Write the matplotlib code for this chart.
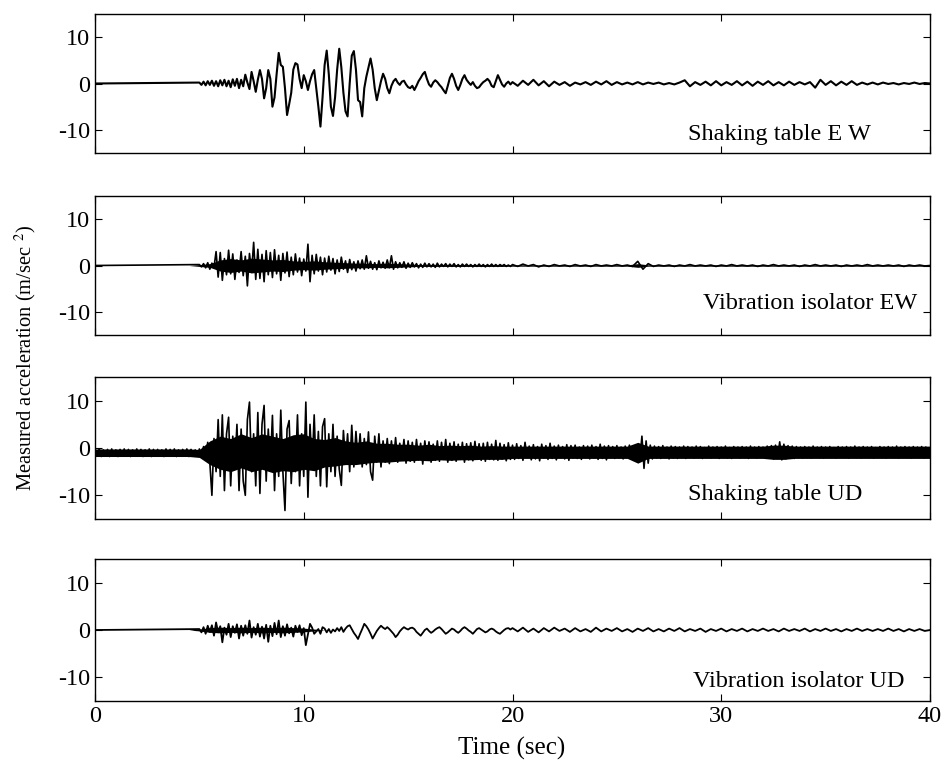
import numpy as np
import matplotlib
matplotlib.use("Agg")
import matplotlib.pyplot as plt

plt.rcParams['font.family'] = 'serif'
plt.rcParams['font.serif'] = ['Liberation Serif', 'DejaVu Serif']
plt.rcParams['mathtext.fontset'] = 'stix'
plt.rcParams['axes.unicode_minus'] = False

# sample grids (sec)
t_pre = np.arange(50) * 0.1            # 0.0 - 4.9
t_main = 5.0 + np.arange(150) * 0.1    # 5.0 - 19.9
t_tail = 20.0 + np.arange(81) * 0.25   # 20 - 40
t_tail_fine = 20.0 + np.arange(200) * 0.1
t_env = np.arange(81) * 0.5            # envelope grid 0 - 40

# --- Shaking table EW ---
ew_table_main = [
    0.2, -0.3, 0.4, -0.4, 0.5, -0.3, 0.6, -0.5, 0.5, -0.6,
    0.7, -0.4, 0.8, -0.6, 0.6, -0.8, 0.9, -0.5, 1.0, -1.0,
    0.8, -0.6, 1.9, 0.2, -1.2, 2.5, 0.5, -1.8, 0.8, 2.9,
    1.0, -3.2, -1.0, 2.9, 1.0, -5.0, -3.0, 2.0, 6.6, 4.0,
    3.6, -1.0, -6.8, -4.5, -2.0, 3.0, 4.4, 4.1, 1.0, -1.0,
    1.8, 0.5, -1.4, 0.5, 2.0, 2.9, -1.0, -5.0, -9.3, -3.0,
    4.0, 7.1, 2.0, -5.0, -7.0, -3.0, 3.0, 7.5, 3.5, -2.0,
    -6.0, -7.1, 0.0, 6.0, 7.0, 3.0, -3.6, -4.0, -7.1, -1.0,
    1.5, 3.5, 5.4, 3.0, -1.0, -3.6, -1.5, 0.5, 2.1, 1.0,
    -1.0, -2.1, -0.5, 0.5, 1.0, 0.2, -0.3, 0.4, 0.6, -0.2,
    -0.8, -1.0, -0.5, -1.4, -0.5, 0.5, 1.2, 2.0, 2.5, 1.0,
    -0.2, -0.7, 0.2, 0.7, 0.3, -0.3, -0.8, -1.5, -2.1, -0.5,
    1.2, 2.1, 1.0, -0.5, -1.4, -0.3, 1.0, 1.8, 0.8, 0.2,
    -0.3, 0.3, -0.5, -1.0, -0.8, -0.2, 0.3, 0.6, 1.0, 0.5,
    -0.5, -0.8, 0.5, 1.8, 0.8, -0.2, -0.7, 0.0, 0.4, -0.2,
]
ew_table_tail = [
    0.3, -0.5, 0.6, -0.3, 0.8, -0.4, 0.5, -0.6, 0.4, -0.3,
    0.3, -0.5, 0.2, -0.2, 0.3, -0.3, 0.4, -0.2, 0.5, -0.3,
    0.3, -0.2, 0.2, -0.2, 0.3, -0.2, 0.2, -0.1, 0.2, -0.2,
    0.1, -0.2, 0.2, 0.7, -0.6, 0.3, -0.3, 0.4, -0.4, 0.5,
    -0.4, 0.3, -0.3, 0.5, -0.4, 0.4, -0.5, 0.4, -0.3, 0.5,
    -0.4, 0.3, -0.4, 0.4, -0.3, 0.3, -0.2, 0.3, -0.9, 0.8,
    -0.3, 0.5, -0.4, 0.4, -0.3, 0.5, -0.3, 0.2, -0.2, 0.2,
    -0.2, 0.2, -0.1, 0.1, -0.2, 0.1, -0.1, 0.2, -0.1, 0.1,
    0.0,
]

# --- Vibration isolator EW ---
ew_iso_main = [
    0.2, -0.3, 0.4, -0.5, 0.6, -0.8, 0.5, -0.4, 3.0, -2.5,
    2.8, -3.2, 1.5, -2.0, 3.3, -1.8, 2.5, -3.0, 1.2, -1.5,
    3.0, -2.2, 2.0, -4.4, 2.6, -1.5, 5.0, -3.0, 3.5, -2.8,
    2.4, -3.5, 3.2, -2.0, 2.8, -2.6, 3.4, -1.8, 2.2, -3.2,
    2.6, -1.6, 2.9, -2.4, 1.8, -2.0, 2.5, -1.4, 1.6, -2.2,
    1.4, -1.2, 4.6, -3.5, 2.2, -1.8, 2.4, -1.2, 1.8, -2.0,
    1.6, -1.4, 2.0, -1.0, 1.5, -1.8, 1.2, -1.3, 1.8, -0.8,
    1.0, -1.5, 1.3, -0.9, 0.8, -1.2, 1.0, -0.7, 1.2, -0.8,
    2.1, -0.6, 0.9, -0.8, 0.6, -0.9, 1.0, -0.5, 0.7, -0.6,
    1.2, -0.5, 2.1, -0.8, 0.8, -0.5, 0.6, -0.4, 0.8, -0.6,
    0.5, -0.4, 0.6, -0.3, 0.4, -0.5, 0.3, -0.4, 0.5, -0.3,
    0.4, -0.3, 0.3, -0.4, 0.5, -0.3, 0.3, -0.2, 0.4, -0.3,
    0.3, -0.2, 0.4, -0.3, 0.2, -0.3, 0.3, -0.2, 0.3, -0.2,
    0.2, -0.3, 0.2, -0.2, 0.3, -0.2, 0.2, -0.3, 0.2, -0.2,
    0.3, -0.2, 0.2, -0.2, 0.2, -0.1, 0.2, -0.2, 0.1, -0.2,
]
ew_iso_tail = [
    0.2, -0.2, 0.3, -0.1, 0.2, -0.3, 0.1, -0.2, 0.2, -0.1,
    0.1, -0.2, 0.2, -0.1, 0.1, -0.2, 0.2, -0.1, 0.1, -0.1,
    0.2, -0.1, 0.1, -0.2, 0.9, -0.8, 0.4, -0.2, 0.1, -0.1,
    0.1, -0.2, 0.1, -0.1, 0.2, -0.1, 0.1, -0.1, 0.1, -0.2,
    0.1, -0.1, 0.2, -0.1, 0.1, -0.1, 0.1, -0.2, 0.1, -0.1,
    0.2, -0.1, 0.1, -0.1, 0.1, -0.2, 0.1, -0.1, 0.2, -0.1,
    0.1, -0.1, 0.1, -0.2, 0.1, -0.1, 0.1, -0.1, 0.2, -0.1,
    0.1, -0.1, 0.1, -0.1, 0.1, -0.2, 0.1, -0.1, 0.1, -0.1,
    0.0,
]
# half-width of the solid black core, every 0.5 s
ew_iso_env = [
    0.0, 0.0, 0.0, 0.0, 0.0, 0.0, 0.0, 0.0, 0.0, 0.0,
    0.2, 0.4, 1.2, 1.5, 1.2, 1.6, 1.4, 1.2, 1.3, 1.0,
    0.9, 1.0, 0.8, 0.7, 0.6, 0.5, 0.5, 0.4, 0.5, 0.4,
    0.3, 0.2, 0.2, 0.2, 0.2, 0.2, 0.2, 0.2, 0.2, 0.2,
    0.15, 0.15, 0.15, 0.15, 0.15, 0.15, 0.15, 0.15, 0.15, 0.15,
    0.15, 0.15, 0.4, 0.15, 0.15, 0.15, 0.15, 0.15, 0.15, 0.15,
    0.15, 0.15, 0.15, 0.15, 0.15, 0.15, 0.15, 0.15, 0.15, 0.15,
    0.15, 0.15, 0.15, 0.15, 0.15, 0.15, 0.15, 0.15, 0.15, 0.15,
    0.15,
]

# --- Shaking table UD ---
ud_table_pre = [
    -0.3, -1.7, -0.2, -1.8, -0.4, -1.6, -0.3, -1.8, -0.2, -1.7,
    -0.4, -1.8, -0.3, -1.6, -0.2, -1.7, -0.3, -1.8, -0.4, -1.7,
    -0.2, -1.6, -0.3, -1.8, -0.4, -1.7, -0.2, -1.8, -0.3, -1.6,
    -0.3, -1.7, -0.4, -1.8, -0.2, -1.6, -0.3, -1.7, -0.2, -1.8,
    -0.4, -1.7, -0.3, -1.6, -0.2, -1.8, -0.3, -1.7, -0.4, -1.6,
]
ud_table_main = [
    -0.2, -1.8, 0.3, -2.5, 1.2, -3.0, -10.0, 2.0, -5.0, 6.0,
    -6.0, 7.0, -9.0, 3.0, 6.5, -8.0, 2.5, -4.0, 5.0, -9.0,
    4.0, -7.0, -10.0, 6.0, 9.7, -5.0, 3.0, -8.0, 7.5, -9.6,
    5.0, 9.0, -7.0, 4.0, -4.0, 6.9, -9.0, 3.0, -6.0, 8.0,
    -5.0, -13.2, 4.0, 5.8, -7.5, 2.0, -5.0, 7.0, -8.0, 3.0,
    -6.0, 9.7, -10.4, 5.0, -4.0, 7.0, -6.0, 3.5, -8.0, 4.5,
    6.2, -8.2, 3.0, -5.0, 5.0, -6.0, 2.5, -4.5, -7.9, 3.7,
    -3.0, 3.0, -5.0, 4.8, -4.0, 3.5, -2.5, 3.0, -4.0, 2.0,
    -3.5, 3.4, -5.0, -6.8, 2.5, -3.0, 3.0, -4.0, 1.5, -3.0,
    2.0, -3.3, 1.5, -2.8, 2.2, -3.0, 1.0, -2.5, 1.8, -3.2,
    1.5, -2.8, 1.2, -3.0, 1.8, -2.5, 1.0, -3.4, 1.5, -2.2,
    1.3, -3.0, 0.8, -2.6, 1.5, -2.8, 1.2, -2.4, 1.8, -3.0,
    1.0, -2.6, 1.3, -2.8, 0.8, -2.4, 1.2, -3.0, 0.9, -2.5,
    1.1, -2.7, 1.4, -2.3, 0.9, -2.6, 1.0, -2.8, 1.2, -2.4,
    0.8, -2.5, 1.6, -2.6, 1.0, -2.3, 0.7, -2.7, 1.1, -2.4,
]
ud_table_tail = [
    0.6, -2.4, 0.9, -2.2, 0.5, -2.6, 1.2, -2.0, 0.4, -2.5,
    0.7, -2.3, 0.3, -2.7, 0.8, -2.1, 0.5, -2.4, 1.0, -2.2,
    0.4, -2.5, 0.6, -2.0, 0.3, -2.3, 0.7, -2.6, 0.5, -2.1,
    0.6, -2.2, 0.2, -2.4, 0.5, -2.0, 0.4, -2.3, 0.6, -2.1,
    0.3, -2.4, 0.8, -2.2, 0.4, -2.5, 0.5, -2.0, 0.3, -2.2,
    0.5, -2.1, 0.2, -2.3, 0.4, -2.0, 0.6, -2.2, 0.3, -2.4,
    0.5, -2.6, 2.5, -4.3, 1.5, -3.2, 0.6, -2.3, 0.4, -2.1,
    0.3, -2.2, 0.5, -2.0, 0.2, -2.3, 0.4, -2.1, 0.3, -2.2,
    0.2, -2.0, 0.4, -2.2, 0.3, -1.9, 0.2, -2.1, 0.4, -2.0,
    0.3, -2.2, 0.1, -2.0, 0.4, -2.1, 0.2, -1.9, 0.3, -2.2,
    0.2, -2.0, 0.4, -2.1, 0.1, -2.2, 0.3, -1.9, 0.2, -2.1,
    0.3, -2.0, 0.2, -2.2, 0.4, -1.9, 0.2, -2.1, 0.3, -2.0,
    0.2, -2.1, 0.4, -2.0, 0.5, -2.3, 0.6, -2.2, 1.3, -2.5,
    0.8, -2.3, 0.5, -2.1, 0.4, -2.2, 0.3, -2.0, 0.2, -2.1,
    0.3, -2.0, 0.2, -2.1, 0.4, -1.9, 0.2, -2.0, 0.3, -2.1,
    0.2, -1.9, 0.3, -2.0, 0.1, -2.1, 0.3, -1.9, 0.2, -2.0,
    0.3, -2.1, 0.2, -1.9, 0.4, -2.0, 0.2, -2.1, 0.3, -1.9,
    0.2, -2.0, 0.3, -2.1, 0.1, -1.9, 0.3, -2.0, 0.2, -2.1,
    0.3, -1.9, 0.2, -2.0, 0.4, -2.1, 0.2, -1.9, 0.3, -2.0,
    0.2, -2.1, 0.3, -1.9, 0.2, -2.0, 0.3, -2.1, 0.2, -1.9,
]
# solid black core, every 0.5 s
ud_table_env_hi = [
    -0.2, -0.2, -0.2, -0.2, -0.2, -0.2, -0.2, -0.2, -0.2, -0.2,
    -0.3, 1.5, 2.5, 2.0, 3.0, 2.2, 3.0, 2.5, 2.0, 2.8,
    3.0, 2.0, 1.8, 2.2, 1.5, 1.2, 1.5, 1.0, 1.0, 0.8,
    0.8, 0.6, 0.8, 0.5, 0.6, 0.5, 0.6, 0.4, 0.5, 0.4,
    0.4, 0.4, 0.4, 0.4, 0.4, 0.4, 0.4, 0.4, 0.4, 0.4,
    0.4, 0.4, 1.2, 0.4, 0.4, 0.4, 0.4, 0.4, 0.4, 0.4,
    0.4, 0.4, 0.4, 0.4, 0.4, 0.6, 0.6, 0.4, 0.4, 0.4,
    0.4, 0.4, 0.4, 0.4, 0.4, 0.4, 0.4, 0.4, 0.4, 0.4,
    0.4,
]
ud_table_env_lo = [
    -1.8, -1.8, -1.8, -1.8, -1.8, -1.8, -1.8, -1.8, -1.8, -1.8,
    -2.0, -3.5, -4.5, -5.0, -4.2, -5.0, -4.5, -5.2, -4.8, -5.0,
    -4.5, -4.8, -4.0, -3.8, -3.5, -3.5, -3.2, -3.0, -3.0, -2.8,
    -2.7, -2.6, -2.7, -2.5, -2.6, -2.5, -2.5, -2.4, -2.4, -2.4,
    -2.2, -2.2, -2.2, -2.2, -2.2, -2.2, -2.2, -2.2, -2.2, -2.2,
    -2.2, -2.2, -3.2, -2.2, -2.2, -2.2, -2.2, -2.2, -2.2, -2.2,
    -2.2, -2.2, -2.2, -2.2, -2.2, -2.4, -2.4, -2.2, -2.2, -2.2,
    -2.2, -2.2, -2.2, -2.2, -2.2, -2.2, -2.2, -2.2, -2.2, -2.2,
    -2.2,
]

# --- Vibration isolator UD ---
ud_iso_main = [
    0.2, -0.5, 0.6, -0.8, 0.9, -0.4, 1.0, -1.2, 1.6, -0.5,
    0.8, -2.6, 0.5, -1.0, 1.3, -1.5, 0.8, -0.6, 1.2, -1.8,
    0.9, -1.2, 1.0, -0.8, 2.0, -1.6, 0.6, -1.0, 1.3, -1.4,
    0.7, -1.8, 1.1, -2.5, 0.9, -1.3, 1.5, -0.9, 2.0, -1.5,
    0.8, -1.2, 1.2, -0.7, 0.5, -1.4, 0.9, -0.4, 1.0, -1.1,
    0.4, -3.2, -1.0, 1.3, 0.5, -0.8, -0.3, 0.2, -0.8, 0.6,
    0.3, -0.5, 0.2, -0.6, 0.1, -0.3, 0.4, -0.2, 0.6, -0.4,
    0.3, 0.8, 1.0, 0.2, -0.6, -1.2, -1.9, -0.8, 0.2, 1.3,
    0.8, 0.1, -0.8, -1.8, -1.0, -0.2, 0.4, 0.9, 0.5, 0.2,
    0.6, 0.2, -0.3, -0.8, -1.5, -1.0, -0.3, 0.2, 0.6, 0.3,
    0.1, 0.4, 0.5, 0.2, -0.4, -0.8, -1.2, -0.6, 0.0, 0.3,
    -0.2, -0.6, -0.3, 0.1, 0.4, 0.6, 0.2, -0.3, -0.8, -0.5,
    -0.1, 0.3, 0.1, -0.3, -0.6, -0.2, 0.3, 0.6, 0.3, -0.1,
    -0.4, -0.8, -0.3, 0.2, 0.4, 0.1, -0.2, -0.5, -0.3, 0.1,
    0.3, 0.1, -0.3, -0.6, -0.8, -0.4, 0.0, 0.3, 0.4, 0.1,
]
ud_iso_tail = [
    0.4, -0.3, 0.5, -0.4, 0.3, -0.5, 0.4, -0.3, 0.5, -0.2,
    0.3, -0.4, 0.4, -0.3, 0.2, -0.4, 0.5, -0.3, 0.3, -0.2,
    0.4, -0.3, 0.2, -0.4, 0.3, -0.2, 0.4, -0.3, 0.2, -0.3,
    0.3, -0.2, 0.4, -0.3, 0.2, -0.2, 0.3, -0.4, 0.2, -0.2,
    0.3, -0.3, 0.2, -0.2, 0.3, -0.3, 0.2, -0.2, 0.3, -0.2,
    0.2, -0.3, 0.3, -0.2, 0.2, -0.2, 0.3, -0.3, 0.2, -0.2,
    0.3, -0.2, 0.2, -0.3, 0.2, -0.2, 0.3, -0.2, 0.2, -0.2,
    0.2, -0.2, 0.3, -0.2, 0.2, -0.3, 0.2, -0.2, 0.2, -0.2,
    0.0,
]
ud_iso_env = [
    0.0, 0.0, 0.0, 0.0, 0.0, 0.0, 0.0, 0.0, 0.0, 0.0,
    0.2, 0.5, 0.6, 0.5, 0.6, 0.5, 0.6, 0.5, 0.6, 0.5,
    0.4, 0.2, 0.0, 0.0, 0.0, 0.0, 0.0, 0.0, 0.0, 0.0,
    0.0, 0.0, 0.0, 0.0, 0.0, 0.0, 0.0, 0.0, 0.0, 0.0,
    0.0, 0.0, 0.0, 0.0, 0.0, 0.0, 0.0, 0.0, 0.0, 0.0,
    0.0, 0.0, 0.0, 0.0, 0.0, 0.0, 0.0, 0.0, 0.0, 0.0,
    0.0, 0.0, 0.0, 0.0, 0.0, 0.0, 0.0, 0.0, 0.0, 0.0,
    0.0, 0.0, 0.0, 0.0, 0.0, 0.0, 0.0, 0.0, 0.0, 0.0,
    0.0,
]

labels = ['Shaking table E W', 'Vibration isolator EW',
          'Shaking table UD', 'Vibration isolator UD']

series = [
    (np.concatenate([[0.0], t_main, t_tail]),
     np.concatenate([[0.0], ew_table_main, ew_table_tail]), 1.5, None),
    (np.concatenate([[0.0], t_main, t_tail]),
     np.concatenate([[0.0], ew_iso_main, ew_iso_tail]), 1.2,
     (-np.array(ew_iso_env), np.array(ew_iso_env))),
    (np.concatenate([t_pre, t_main, t_tail_fine]),
     np.concatenate([ud_table_pre, ud_table_main, ud_table_tail]), 1.2,
     (np.array(ud_table_env_lo), np.array(ud_table_env_hi))),
    (np.concatenate([[0.0], t_main, t_tail]),
     np.concatenate([[0.0], ud_iso_main, ud_iso_tail]), 1.3,
     (-np.array(ud_iso_env), np.array(ud_iso_env))),
]

# axes boxes in pixels (top, bottom) and label position in axes coords
W, H = 949, 769
boxes = [(14, 153), (196, 335), (377, 519), (559, 701)]
text_pos = [(0.710, 0.13), (0.728, 0.23), (0.710, 0.17), (0.716, 0.134)]

fig = plt.figure(figsize=(W / 100, H / 100), dpi=100)
for i, ((top, bot), (t, a, lw, env)) in enumerate(zip(boxes, series)):
    ax = fig.add_axes([95 / W, 1 - bot / H, 835 / W, (bot - top) / H])
    if env is not None:
        ax.fill_between(t_env, env[0], env[1], color='black', lw=0)
    ax.plot(t, a, color='black', lw=lw)
    ax.set_xlim(0, 40)
    ax.set_ylim(-15, 15)
    ax.set_xticks([0, 10, 20, 30, 40])
    ax.set_yticks([-10, 0, 10])
    ax.tick_params(direction='in', top=True, right=True, length=5,
                   width=0.8, labelsize=17.5)
    for s in ax.spines.values():
        s.set_linewidth(1.0)
    if i < 3:
        ax.set_xticklabels([])
    tx, ty = text_pos[i]
    ax.text(tx, ty, labels[i], transform=ax.transAxes, ha='left',
            va='center', fontsize=17.5)

fig.text(25 / W, 1 - 358 / H, r'Measured acceleration (m/sec $^{2}$)',
         rotation=90, ha='center', va='center', fontsize=14.8)
fig.text(512 / W, 1 - 748 / H, 'Time (sec)', ha='center', va='center',
         fontsize=18)

fig.savefig('out.png', dpi=100)
